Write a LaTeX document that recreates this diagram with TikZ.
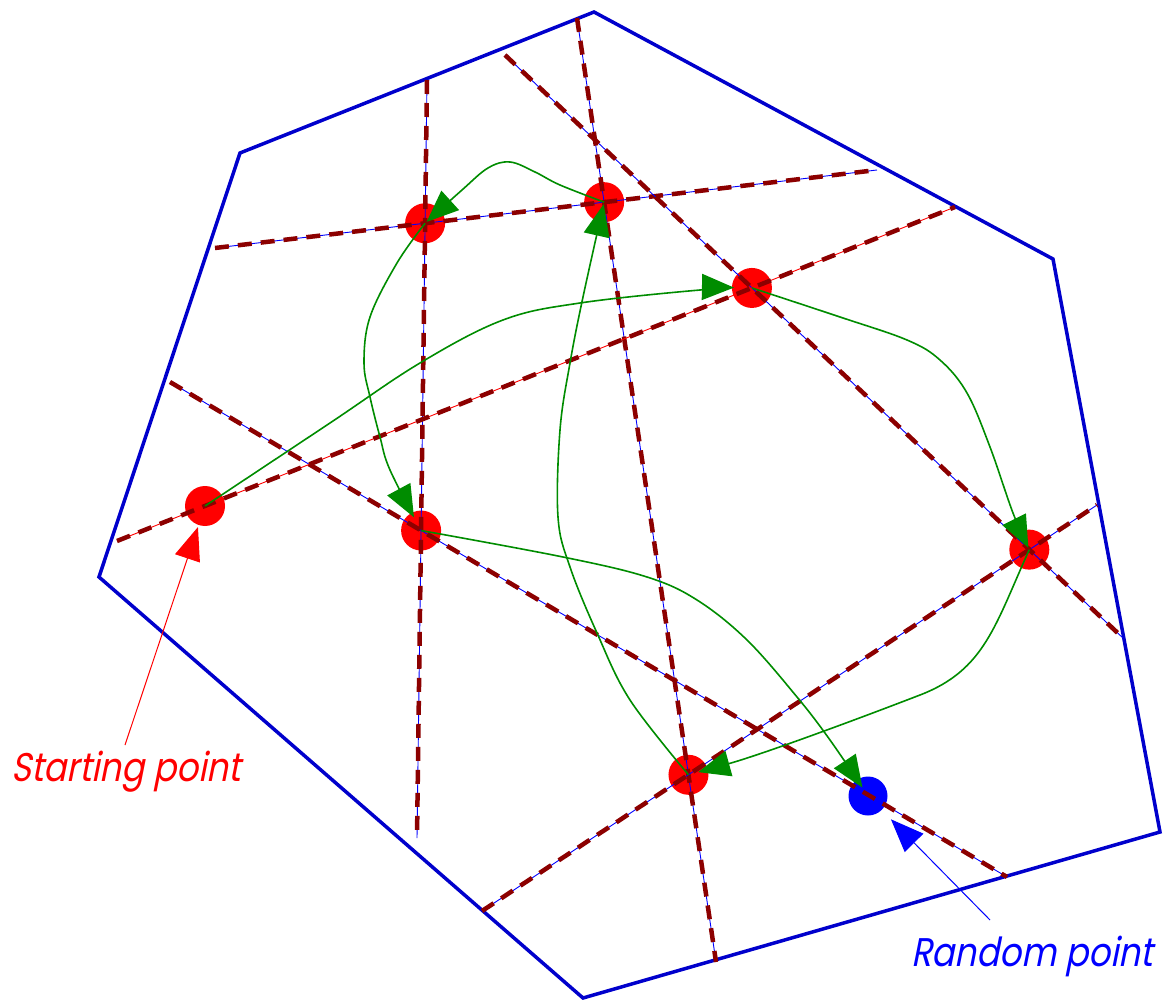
\documentclass[tikz,border=0pt]{standalone}
\usepackage{fontspec}
\newfontfamily\labfont{Poppins}[FakeSlant=0.2,FakeStretch=0.85]
\usetikzlibrary{arrows.meta}
\definecolor{polyblue}{RGB}{0,0,204}
\definecolor{dred}{RGB}{140,0,0}
\definecolor{grn}{RGB}{0,140,0}
\begin{document}
\begin{tikzpicture}[x=1pt,y=-1pt,
  poly/.style={polyblue, line width=3.5pt, line join=miter},
  baseb/.style={blue, line width=0.9pt},
  baser/.style={red, line width=0.9pt},
  dsh/.style={dred, line width=4.5pt, dash pattern=on 14pt off 9pt},
  rpt/.style={circle, fill=red, minimum size=40pt, inner sep=0pt},
  bpt/.style={circle, fill=blue, minimum size=39pt, inner sep=0pt},
  flow/.style={grn, line width=1.6pt, -{Triangle[length=32pt,width=26pt]}},
  lblarrow/.style={line width=1pt, -{Triangle[length=33pt,width=26pt]}},
  lbl/.style={font=\labfont\fontsize{40}{46}\selectfont, inner sep=0pt}
]
\useasboundingbox (0,0) rectangle (1173,1000);
% polygon
\coordinate (V1) at (594,12);
\coordinate (V2) at (1053,259);
\coordinate (V3) at (1160,832);
\coordinate (V4) at (583,998);
\coordinate (V5) at (99,577);
\coordinate (V6) at (240,153);
\draw[poly] (V1) -- (V2) -- (V3) -- (V4) -- (V5) -- (V6) -- cycle;
% line end points
\coordinate (L1a) at (427,80);   \coordinate (L1b) at (417,838);
\coordinate (L2a) at (215,248);  \coordinate (L2b) at (877,170);
\coordinate (L3a) at (577,18);   \coordinate (L3b) at (716,962);
\coordinate (L4a) at (505,55);   \coordinate (L4b) at (1123,638);
\coordinate (L5a) at (117,541);  \coordinate (L5b) at (955,207);
\coordinate (L6a) at (170,382);  \coordinate (L6b) at (1007,877);
\coordinate (L7a) at (482,911);  \coordinate (L7b) at (1097,505);
% points
\node[rpt] (P1) at (intersection of L1a--L1b and L2a--L2b) {};
\node[rpt] (P2) at (intersection of L2a--L2b and L3a--L3b) {};
\node[rpt] (P3) at (intersection of L4a--L4b and L5a--L5b) {};
\node[rpt] (P4) at (intersection of L4a--L4b and L7a--L7b) {};
\node[rpt] (P5) at (intersection of L3a--L3b and L7a--L7b) {};
\node[rpt] (P6) at (intersection of L1a--L1b and L6a--L6b) {};
\node[rpt] (S) at (205,506) {};
\node[bpt] (R) at (868,796) {};
% lines
\foreach \l in {L1,L2,L3,L4,L6,L7}{
  \draw[baseb] (\l a) -- (\l b);
  \draw[dsh] (\l a) -- (\l b);
}
\draw[baser] (L5a) -- (L5b);
\draw[dsh] (L5a) -- (L5b);
% flow curves
\draw[flow, shorten >=18pt] plot[smooth, tension=0.6] coordinates
  {(S.center) (330,423) (420,363) (503,320) (580,303) (700,290) (P3.center)};
\draw[flow, shorten >=2pt] plot[smooth, tension=0.6] coordinates
  {(P3.center) (840,317) (907,340) (940,360) (967,393) (990,447) (1013,513) (P4.center)};
\draw[flow, shorten >=10pt] (P4.center) .. controls (995,625) and (985,670) .. (920,695)
  .. controls (850,722) and (760,755) .. (P5.center);
\draw[flow, shorten >=2pt] plot[smooth, tension=0.6] coordinates
  {(P5.center) (630,700) (597,633) (570,567) (558,517) (560,430) (570,363) (583,297) (P2.center)};
\draw[flow, shorten >=2pt] plot[smooth, tension=0.6] coordinates
  {(P2.center) (560,185) (535,172) (510,162) (488,168) (462,190) (P1.center)};
\draw[flow, shorten >=15pt] plot[smooth, tension=0.6] coordinates
  {(P1.center) (397,263) (370,317) (364,363) (370,397) (380,437) (390,470) (P6.center)};
\draw[flow, shorten >=10pt] plot[smooth, tension=0.6] coordinates
  {(P6.center) (563,557) (647,577) (697,600) (747,640) (797,697) (830,740) (R.center)};
% labels
\coordinate (sl) at (125,745);
\coordinate (rl) at (990,920);
\draw[lblarrow, red, shorten >=2pt] (sl) -- (S);
\draw[lblarrow, blue, shorten >=13pt] (rl) -- (R);
\node[lbl, red, anchor=base west] (stxt) at (11,781) {Starting point};
\node[lbl, blue, anchor=base west] (rtxt) at (911,966) {Random point};
\end{tikzpicture}
\end{document}
